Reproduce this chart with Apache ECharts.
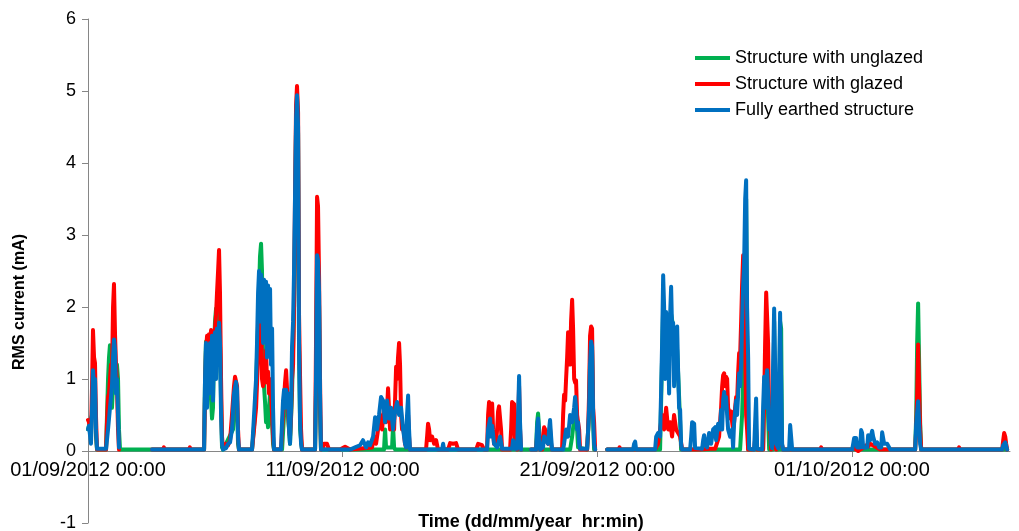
<!DOCTYPE html>
<html>
<head>
<meta charset="utf-8">
<script src="https://cdn.jsdelivr.net/npm/echarts@6/dist/echarts.min.js"></script>
<style>html,body{margin:0;padding:0;background:#fff}#c{width:1019px;height:531px}</style>
</head>
<body>
<div id="c"></div>
<script>
// time in hours since 01/09/2012 00:00, value = RMS current (mA)
const seriesNames = ['Structure with unglazed', 'Structure with glazed', 'Fully earthed structure'];
const tickHours = [0, 240, 480, 720];
const yTicks = [-1, 0, 1, 2, 3, 4, 5, 6];

const unglazed = [
[0,0.3],[3.8,0.5],[4.7,1.0],[6.6,0.8],[7.5,0.2],[8.5,0.02],[17,0.02],[17.9,0.5],[18.9,1.0],[19.8,1.3],[20.7,1.47],[21.7,1.3],[22.6,0.6],[23.6,0.9],[24.5,1.2],[25.5,1.1],[26.4,0.9],[27.3,1.2],[28.3,1.0],[29.2,0.3],[30.2,0.02],[60.3,0.02],[109.4,0.02],[110.3,1.0],[111.2,1.52],[112.2,1.0],[113.1,1.2],[114.1,0.8],[115.0,0.9],[116.0,0.7],[116.9,0.45],[117.8,0.6],[118.8,1.4],[119.7,1.8],[120.7,1.98],[121.6,1.6],[122.6,1.9],[123.5,2.0],[124.4,1.5],[125.4,0.7],[126.3,0.05],[127.3,0.02],
[136.7,0.3],[138.6,0.8],[140.5,0.7],[141.4,0.1],[142.3,0.02],[154.6,0.02],
[157.4,0.5],[159.3,1.3],[161.2,2.2],[162.1,2.7],[163.1,2.88],[164.0,2.5],[165.0,1.3],[165.9,0.9],[166.9,0.67],[167.8,0.4],[168.7,0.5],[169.7,0.33],[170.6,0.6],[171.6,0.8],[172.5,0.5],[173.5,0.4],[174.4,0.1],[175.3,0.02],
[182.9,0.02],[184.8,0.5],[186.7,0.7],[188.5,0.5],[190.4,0.1],[192.3,0.8],[194.2,2.0],[196.1,4.5],[197.0,4.9],[198.0,4.4],[198.9,1.4],[199.9,0.3],[201.7,0.02],[214.0,0.02],[214.9,0.8],[215.9,2.6],[216.8,2.5],[217.8,2.0],[218.7,0.5],[219.6,0.02],
[279.0,0.02],[280.0,0.3],[280.9,0.05],[286.6,0.05],[287.5,0.35],[288.5,0.05],[289.4,0.02],
[422.3,0.02],[423.3,0.4],[424.2,0.52],[425.2,0.3],[426.1,0.02],
[454.4,0.02],[456.3,0.2],[458.2,0.45],[460.0,0.5],[461.0,0.3],[461.9,0.05],[470.4,0.02],[472.3,0.5],[473.2,1.3],[474.2,1.5],[475.1,1.4],[476.1,0.4],[477.0,0.02],[478.0,0.02],[484,null],
[489.3,0.02],[539.2,0.02],[540.2,0.7],[542.1,2.0],[544.9,1.5],[549.6,1.9],[555.3,1.4],[558.1,0.4],[559.0,0.02],
[614.6,0.02],[616.5,0.5],[618.4,1.5],[620.3,3.5],[621.2,1.5],[622.2,0.02],[636.3,0.02],[637.3,0.9],[639.2,1.0],[640.1,0.9],[642.0,0.02],[645.7,0.02],[646.7,1.8],[647.6,0.5],[648.6,0.02],[651.4,0.02],[652.3,1.8],[653.3,1.7],[654.2,0.02],
[779.6,0.02],[780.6,0.5],[781.5,1.5],[782.4,2.05],[783.4,2.05],[784.3,0.4],[785.3,0.02],[866.3,0.02]
];

const glazed = [
[0,0.43],[0.9,0.4],[2.8,0.2],[3.8,0.9],[4.7,1.68],[5.7,1.3],[6.6,1.22],[7.5,0.5],[8.5,0.02],[17,0.02],
[17.9,0.4],[18.9,0.75],[19.8,0.8],[20.7,1.0],[21.7,1.2],[22.6,1.1],[23.6,2.0],[24.5,2.32],[25.5,1.6],[26.4,1.2],[27.3,0.9],[28.3,0.3],[29.2,0.02],[45,null],
[60.3,0.02],[70.5,0.02],[71.5,0.05],[72.5,0.02],[95.0,0.02],[96.0,0.05],[97.0,0.02],[109.4,0.02],[110.3,0.8],[111.2,1.4],[112.2,1.6],[113.1,1.3],[114.1,1.62],[115.0,1.5],[116.0,1.68],[116.9,1.5],[117.8,1.6],[118.8,1.45],[119.7,1.7],[120.7,1.9],[121.6,2.2],[122.6,2.5],[123.5,2.79],[124.4,2.2],[125.4,1.0],[126.3,0.2],[127.3,0.04],[130.1,0.1],[132.0,0.08],[133.9,0.15],[135.7,0.5],[137.6,0.9],[138.6,1.03],[140.5,0.9],[141.4,0.3],[142.3,0.02],[154.6,0.02],[156.5,0.3],[158.4,0.6],[160.3,1.3],[161.2,2.0],[162.1,2.3],[163.1,2.1],[164.0,1.0],[165.0,0.9],[165.9,1.2],[166.9,0.95],[167.8,1.4],[168.7,1.0],[169.7,1.1],[170.6,0.8],[171.6,1.0],[172.5,0.8],[173.5,0.5],[174.4,0.2],[175.3,0.02],[181.9,0.02],[183.8,0.5],[185.7,0.95],[186.7,1.12],[187.6,1.1],[188.5,0.6],[189.5,0.3],[190.4,0.2],[191.4,0.5],[192.3,1.0],[193.3,1.2],[194.2,2.0],[195.1,3.5],[196.1,4.8],[197.0,5.07],[198.0,4.7],[198.9,1.9],[199.9,1.0],[200.8,0.3],[201.7,0.02],[214.0,0.02],[214.9,1.5],[215.9,3.53],[216.8,3.4],[217.8,2.4],[218.7,1.0],[219.6,0.02],
[221.5,0.05],[222.5,0.1],[225.3,0.1],[227.2,0.02],[237.6,0.02],[242.3,0.06],[247.0,0.02],
[267.7,0.05],[269.6,0.2],[271.5,0.1],[273.4,0.3],[275.3,0.5],[277.2,0.3],[279.0,0.6],[280.9,0.4],[281.9,0.6],[282.8,0.87],[283.8,0.85],[284.7,0.3],[286.6,0.5],[287.5,0.55],[288.5,0.3],[289.4,0.7],[290.4,1.17],[291.3,1.0],[292.2,1.3],[293.2,1.5],[294.1,1.2],[295.1,0.5],[296.0,0.3],[297.0,0.35],[298.8,0.1],[299.8,0.05],[300.7,0.3],[301.7,0.5],[302.6,0.2],[303.5,0.02],
[318.6,0.02],[319.6,0.2],[320.5,0.38],[321.5,0.3],[322.4,0.15],[324.3,0.2],[326.2,0.1],[328.1,0.15],[329.9,0.02],[339.4,0.02],[341.3,0.11],[344.1,0.1],[346.9,0.11],[348.8,0.02],[365.8,0.02],[367.7,0.1],[371.4,0.08],[373.3,0.02],[376.1,0.02],[377.1,0.5],[378.0,0.68],[379.0,0.65],[379.9,0.5],[380.9,0.66],[381.8,0.3],[382.7,0.1],[384.6,0.1],[385.6,0.3],[386.5,0.55],[387.4,0.62],[388.4,0.6],[389.3,0.3],[390.3,0.02],[397.8,0.02],[398.8,0.3],[399.7,0.68],[400.6,0.7],[401.6,0.65],[402.5,0.1],[404.4,0.02],[405.4,0.4],[406.3,0.9],[407.2,0.3],[408.2,0.02],[413,null],
[417.6,0.02],[422.3,0.02],[423.3,0.2],[424.2,0.3],[425.2,0.2],[426.1,0.02],[428.0,0.02],[428.9,0.2],[429.9,0.33],[430.8,0.3],[431.8,0.15],[433.6,0.1],[434.6,0.2],[435.5,0.3],[436.5,0.1],[437.4,0.02],
[446.8,0.02],[447.8,0.5],[448.7,0.78],[449.7,0.7],[450.6,1.0],[451.6,1.3],[452.5,1.65],[453.4,1.5],[454.4,1.2],[455.3,1.8],[456.3,2.1],[457.2,1.7],[458.2,1.0],[459.1,0.95],[460.0,0.98],[461.0,0.5],[461.9,0.4],[462.9,0.3],[463.8,0.02],[470.4,0.02],[471.4,0.3],[472.3,0.8],[473.2,1.6],[474.2,1.73],[475.1,1.7],[476.1,0.6],[477.0,0.4],[478.0,0.02],[484,null],
[489.3,0.02],[500.0,0.02],[501.0,0.05],[502.0,0.02],[534.5,0.02],[537.3,0.1],[541.1,0.5],[543.0,0.3],[544.9,0.6],[546.8,0.3],[548.7,0.4],[550.5,0.2],[552.4,0.5],[554.3,0.3],[558.1,0.2],[560.0,0.02],
[576.9,0.02],[586.4,0.03],[591.1,0.03],[594.8,0.2],[596.7,0.6],[597.7,0.9],[598.6,1.05],[599.6,1.08],[600.5,0.9],[601.4,1.03],[602.4,1.0],[603.3,0.6],[604.3,0.55],[605.2,0.45],[606.2,0.55],[607.1,0.4],[608.0,0.3],[609.0,0.4],[609.9,0.6],[610.9,0.75],[611.8,0.7],[612.8,1.1],[613.7,1.36],[614.6,1.3],[615.6,1.8],[616.5,2.3],[617.5,2.72],[618.4,2.6],[619.4,1.5],[620.3,0.5],[621.2,0.3],[622.2,0.02],[627.8,0.02],[629.7,0.3],[630.7,0.02],[636.3,0.02],[637.3,0.7],[638.2,1.5],[639.2,2.2],[640.1,2.2],[641.0,1.5],[642.0,0.5],[642.9,0.3],[643.9,0.02],[645.7,0.02],[646.7,0.3],[648.6,0.02],[652.3,0.2],[655.2,0.02],[690.0,0.02],[691.0,0.05],[692.0,0.02],
[720.2,0.02],[722.1,0.05],[724.0,0.02],[725.9,0.0],[727.8,0.02],[731.5,0.05],[733.4,0.08],[735.3,0.06],[737.2,0.1],[746.6,0.02],[779.6,0.02],[780.6,0.3],[781.5,0.8],[782.4,1.48],[783.4,1.48],[784.3,0.3],[785.3,0.02],[820.0,0.02],[821.0,0.05],[822.0,0.02],[861.6,0.02],[862.6,0.15],[863.5,0.25],[864.5,0.2],[865.4,0.1],[866.3,0.02]
];

const earthed = [
[0,0.3],[0.9,0.35],[2.8,0.1],[3.8,0.6],[4.7,1.12],[5.7,0.9],[6.6,1.0],[7.5,0.3],[8.5,0.03],[17,0.03],[18.9,0.3],[20.7,0.6],[22.6,0.9],[23.6,1.3],[24.5,1.55],[25.5,1.4],[26.4,0.8],[27.3,1.0],[28.3,0.5],[29.2,0.05],[45,null],
[60.3,0.02],[109.4,0.02],[110.3,1.0],[111.2,1.5],[112.2,0.6],[113.1,1.45],[114.1,0.8],[115.0,1.5],[116.0,0.9],[116.9,1.6],[117.8,0.7],[118.8,1.5],[119.7,1.65],[120.7,1.0],[121.6,1.7],[122.6,1.2],[123.5,1.78],[124.4,1.5],[125.4,0.5],[126.3,0.1],[127.3,0.02],[130.1,0.04],[132.0,0.1],[133.9,0.12],[135.7,0.3],[137.6,0.8],[139.5,0.96],[140.5,0.85],[141.4,0.2],[142.3,0.02],
[154.6,0.02],[156.5,0.5],[158.4,1.0],[159.3,1.5],[160.3,2.2],[161.2,2.5],[162.1,1.8],[163.1,2.45],[164.0,2.3],[165.0,1.5],[165.9,2.38],[166.9,2.0],[167.8,2.35],[168.7,1.3],[169.7,2.3],[170.6,1.9],[171.6,2.25],[172.5,1.2],[173.5,1.7],[174.4,0.6],[175.3,0.02],
[181.9,0.02],[182.9,0.4],[183.8,0.7],[184.8,0.85],[185.7,0.6],[186.7,0.85],[187.6,0.7],[188.5,0.8],[189.5,0.3],[190.4,0.1],[191.4,0.6],[192.3,1.45],[193.3,1.8],[194.2,2.5],[195.1,3.5],[196.1,4.6],[197.0,4.94],[198.0,4.5],[198.9,1.5],[199.9,0.4],[200.8,0.1],[201.7,0.02],
[214.0,0.02],[214.9,1.0],[215.9,2.72],[216.8,2.65],[217.8,2.2],[218.7,0.8],[219.6,0.02],
[247.0,0.02],[251.7,0.05],[256.4,0.08],[259.2,0.15],[262.1,0.05],[264.0,0.12],[265.8,0.08],[268.7,0.2],[270.6,0.47],[272.4,0.3],[274.3,0.5],[276.2,0.75],[278.1,0.7],[280.0,0.4],[281.9,0.7],[283.8,0.45],[285.6,0.6],[287.5,0.3],[289.4,0.55],[291.3,0.68],[293.2,0.5],[295.1,0.6],[297.0,0.3],[298.8,0.1],[299.8,0.05],[300.7,0.5],[301.7,0.77],[302.6,0.3],[303.5,0.02],
[333.7,0.02],[334.7,0.1],[335.6,0.02],
[376.1,0.02],[377.1,0.3],[379.0,0.45],[379.9,0.2],[380.9,0.35],[382.7,0.1],[385.6,0.05],[388.4,0.2],[390.3,0.03],[399.7,0.03],[400.6,0.15],[402.5,0.03],[404.4,0.03],[405.4,0.5],[406.3,1.04],[407.2,0.4],[408.2,0.02],[413,null],
[417.6,0.02],[422.3,0.02],[423.3,0.3],[424.2,0.45],[425.2,0.2],[426.1,0.02],[428.9,0.05],[429.9,0.2],[431.8,0.15],[433.6,0.1],[434.6,0.3],[435.5,0.43],[436.5,0.2],[437.4,0.02],
[447.8,0.02],[448.7,0.1],[450.6,0.3],[452.5,0.2],[454.4,0.5],[456.3,0.4],[458.2,0.6],[459.1,0.75],[460.0,0.6],[461.0,0.3],[461.9,0.4],[462.9,0.1],[463.8,0.03],
[470.4,0.03],[471.4,0.3],[472.3,0.6],[473.2,1.2],[474.2,1.52],[475.1,1.45],[476.1,0.5],[477.0,0.1],[478.0,0.02],[484,null],
[489.3,0.02],[513.8,0.02],[514.7,0.1],[515.7,0.13],[516.6,0.02],
[534.5,0.02],[535.5,0.2],[537.3,0.25],[539.2,0.2],[540.2,0.85],[541.1,1.5],[542.1,2.44],[543.0,2.0],[543.9,1.0],[544.9,1.93],[545.8,1.2],[546.8,1.5],[547.7,0.8],[548.7,1.9],[549.6,2.28],[550.5,1.7],[551.5,1.78],[552.4,0.9],[553.4,1.3],[554.3,1.6],[555.3,1.73],[556.2,1.1],[557.1,0.6],[558.1,0.57],[559.0,0.1],[560.0,0.02],
[567.5,0.02],[568.5,0.2],[569.4,0.4],[571.3,0.38],[572.2,0.04],
[578.8,0.03],[579.8,0.15],[580.7,0.22],[581.6,0.1],[583.5,0.05],[585.4,0.25],[587.3,0.1],[589.2,0.3],[591.1,0.33],[592.0,0.15],[593.9,0.38],[595.8,0.3],[596.7,0.57],[597.7,0.3],[598.6,0.7],[599.6,0.82],[600.5,0.6],[601.4,0.75],[602.4,0.5],[603.3,0.3],[605.2,0.2],[607.1,0.3],[608.0,0.05],[609.0,0.4],[610.9,0.7],[611.8,0.5],[612.8,0.8],[613.7,1.08],[614.6,0.9],[615.6,1.2],[616.5,1.8],[617.5,2.3],[618.4,2.6],[619.4,3.5],[620.3,3.76],[621.2,2.0],[622.2,1.3],[623.1,0.03],
[627.8,0.02],[628.8,0.4],[629.7,0.73],[630.7,0.03],
[635.4,0.02],[636.3,0.6],[637.3,1.03],[638.2,0.6],[639.2,1.0],[640.1,1.12],[641.0,0.8],[642.0,0.3],[642.9,0.5],[643.9,0.1],[644.8,0.04],[645.7,1.2],[646.7,1.98],[647.6,1.2],[648.6,0.1],[650.5,0.04],[651.4,1.0],[652.3,1.92],[653.3,1.9],[654.2,0.1],[655.2,0.02],
[660.8,0.02],[661.8,0.36],[662.7,0.35],[663.7,0.02],
[720.2,0.02],[721.2,0.1],[722.1,0.18],[724.0,0.18],[724.9,0.05],[727.8,0.05],[728.7,0.29],[729.6,0.25],[730.6,0.05],[734.4,0.05],[735.3,0.22],[737.2,0.15],[738.1,0.22],[739.1,0.28],[740.0,0.2],[741.9,0.1],[743.8,0.12],[745.7,0.05],[747.6,0.05],[748.5,0.26],[749.5,0.26],[750.4,0.1],[753.2,0.1],[755.1,0.05],[756.0,0.02],
[779.6,0.02],[780.6,0.38],[781.5,0.4],[782.4,0.69],[783.4,0.69],[784.3,0.1],[785.3,0.02],
[861.6,0.02],[862.6,0.08],[863.5,0.1],[864.5,0.12],[865.4,0.1],[866.3,0.02]
];

const colors = ['#00B050', '#FF0000', '#0070C0'];
const startMs = Date.UTC(2012, 8, 1, 0, 0);
function pad(n) { return (n < 10 ? '0' : '') + n; }
function fmtHour(v) {
  const d = new Date(startMs + v * 3600 * 1000);
  return pad(d.getUTCDate()) + '/' + pad(d.getUTCMonth() + 1) + '/' + d.getUTCFullYear() + ' ' + pad(d.getUTCHours()) + ':' + pad(d.getUTCMinutes());
}

// layout: grid height 504px over 7 units -> zero line is one unit above the grid bottom
const gridTop = 19, gridBottom = 8, chartH = 531;
const yMin = -1, yMax = 6;
const zeroOffset = -(chartH - gridTop - gridBottom) * (0 - yMin) / (yMax - yMin);

const chart = echarts.init(document.getElementById('c'), null, { renderer: 'canvas' });
const font = 'Liberation Sans, Arial, sans-serif';
chart.setOption({
  animation: false,
  backgroundColor: '#ffffff',
  title: {
    text: 'Time (dd/mm/year  hr:min)',
    left: 526, top: 508, textAlign: 'center',
    textStyle: { fontFamily: font, fontSize: 18, fontWeight: 'bold', color: '#000' }
  },
  legend: {
    orient: 'vertical', left: 690, top: 44,
    itemWidth: 35, itemHeight: 4, itemGap: 8,
    icon: 'rect',
    textStyle: { fontFamily: font, fontSize: 18, color: '#000' },
    data: seriesNames
  },
  grid: { left: 88, right: 9, top: gridTop, bottom: gridBottom, containLabel: false, outerBoundsMode: 'none' },
  xAxis: {
    type: 'value', min: 0, max: 869, interval: 240,
    position: 'bottom', offset: zeroOffset,
    axisLine: { onZero: false, lineStyle: { color: '#868686', width: 1 } },
    axisTick: { show: true, inside: false, length: 6, customValues: tickHours, lineStyle: { color: '#868686' } },
    axisLabel: { customValues: tickHours, formatter: fmtHour, margin: 9, fontFamily: font, fontSize: 20, color: '#000' },
    splitLine: { show: false }
  },
  yAxis: {
    type: 'value', min: yMin, max: yMax, interval: 1,
    name: 'RMS current (mA)', nameLocation: 'middle', nameGap: 60, nameRotate: 90,
    nameTextStyle: { fontFamily: font, fontSize: 16, fontWeight: 'bold', color: '#000', padding: [0, 62, 0, 0] },
    axisLine: { show: true, onZero: false, lineStyle: { color: '#868686', width: 1 } },
    axisTick: { show: true, length: 6, lineStyle: { color: '#868686' } },
    axisLabel: { margin: 12, fontFamily: font, fontSize: 18, color: '#000', customValues: yTicks },
    splitLine: { show: false }
  },
  series: [
    { name: seriesNames[0], type: 'line', data: unglazed, color: colors[0], showSymbol: false, connectNulls: false, lineStyle: { width: 4, color: colors[0], join: 'round', cap: 'round' } },
    { name: seriesNames[1], type: 'line', data: glazed, color: colors[1], showSymbol: false, connectNulls: false, lineStyle: { width: 4, color: colors[1], join: 'round', cap: 'round' } },
    { name: seriesNames[2], type: 'line', data: earthed, color: colors[2], showSymbol: false, connectNulls: false, lineStyle: { width: 4, color: colors[2], join: 'round', cap: 'round' } }
  ]
});
</script>
</body>
</html>
